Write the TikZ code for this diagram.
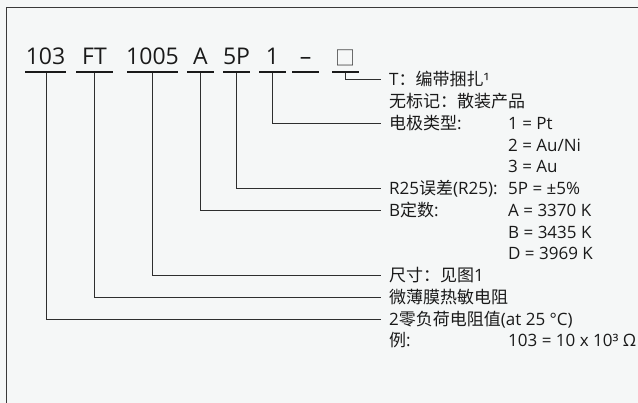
\documentclass[tikz,border=0pt]{standalone}
\usepackage{fontspec}
\setmainfont{Open Sans}
\newfontfamily\cjk{Noto Sans CJK SC}
\definecolor{bgc}{HTML}{F5F7F7}
\definecolor{framec}{HTML}{3A3A3A}
\definecolor{txt}{HTML}{1A1A1A}
\definecolor{linec}{HTML}{2E2E2E}
\begin{document}
\begin{tikzpicture}[x=1pt,y=-1pt,
  code/.style={anchor=base,inner sep=0pt,font=\fontsize{23}{26}\selectfont,text=txt},
  ul/.style={draw=txt,line width=2pt},
  conn/.style={draw=linec,line width=1pt},
  lab/.style={anchor=west,inner sep=0pt,text height=12pt,text depth=0pt,font=\fontsize{17}{20}\selectfont,text=txt},
  gap/.style={shorten >=8.3pt}]
\useasboundingbox (0,0) rectangle (638,403);
\fill[bgc] (0,0) rectangle (638,403);
\draw[framec,line width=1.3pt] (6.7,403) -- (6.7,7.3) -- (638,7.3);

% code
\node[code] (c1) at (45.5,65) {103};
\node[code] (c2) at (94.5,65) {FT};
\node[code] (c3) at (152.5,65) {1005};
\node[code] (c4) at (200.5,65) {A};
\node[code] (c5) at (236.5,65) {5P};
\node[code] (c6) at (272.5,65) {1};
\node[code] (c7) at (305.5,65) {–};
\node[code,text=framec,font=\cjk\fontsize{20}{22}\selectfont] (c8) at (345.5,65.5) {□};

\draw[ul] (25,72) -- (66,72);
\draw[ul] (76,72) -- (113,72);
\draw[ul] (127,72) -- (178,72);
\draw[ul] (187,72) -- (214,72);
\draw[ul] (223,72) -- (250,72);
\draw[ul] (259,72) -- (286,72);
\draw[ul] (292,72) -- (319,72);
\draw[ul] (332,72) -- (359,72);

\coordinate (u1) at (46.5,73);
\coordinate (u2) at (94,73);
\coordinate (u3) at (152,73);
\coordinate (u4) at (200.3,73);
\coordinate (u5) at (236,73);
\coordinate (u6) at (272.7,73);
\coordinate (u8) at (345,73);

% labels
\node[lab] (l0) at (389,80) {T{\cjk：编带捆扎}¹};
\node[lab] (l1) at (389,101.75) {\cjk 无标记：散装产品};
\node[lab] (l2) at (389,123.5) {{\cjk 电极类型}:};
\node[lab] (v2) at (508,123.5) {1 = Pt};
\node[lab] (v3) at (508,145.25) {2 = Au/Ni};
\node[lab] (v4) at (508,167) {3 = Au};
\node[lab] (l5) at (389,188.75) {R25{\cjk 误差}(R25):};
\node[lab] (v5) at (508,188.75) {5P = ±5\%};
\node[lab] (l6) at (389,210.5) {B{\cjk 定数}:};
\node[lab] (v6) at (508,210.5) {A = 3370 K};
\node[lab] (v7) at (508,232.25) {B = 3435 K};
\node[lab] (v8) at (508,254) {D = 3969 K};
\node[lab] (l9) at (389,275.75) {{\cjk 尺寸：见图}1};
\node[lab] (l10) at (389,297.5) {\cjk 微薄膜热敏电阻};
\node[lab] (l11) at (389,319.25) {2{\cjk 零负荷电阻值}(at 25 °C)};
\node[lab] (l12) at (389,341) {{\cjk 例}:};
\node[lab] (v12) at (508,341) {103 = 10 x 10³ Ω};

% connectors
\draw[conn,gap] (u8) |- (l0.west);
\draw[conn,gap] (u6) |- (l2.west);
\draw[conn,gap] (u5) |- (l5.west);
\draw[conn,gap] (u4) |- (l6.west);
\draw[conn,gap] (u3) |- (l9.west);
\draw[conn,gap] (u2) |- (l10.west);
\draw[conn,gap] (u1) |- (l11.west);
\end{tikzpicture}
\end{document}
